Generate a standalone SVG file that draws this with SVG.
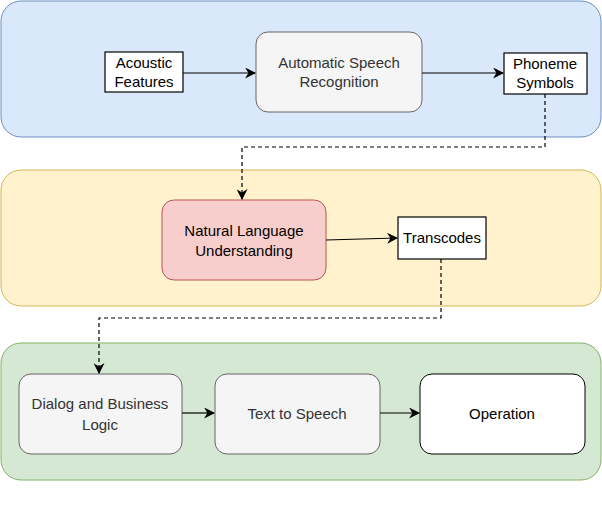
<svg xmlns="http://www.w3.org/2000/svg" width="602" height="514" viewBox="0 0 602 514">
<defs>
<marker id="ah" viewBox="0 0 10 10" refX="9" refY="5" markerWidth="11" markerHeight="11" orient="auto" markerUnits="userSpaceOnUse"><path d="M0,0 L10,5 L0,10 L3,5 Z" fill="#000"/></marker>
<style>
text{font-family:"Liberation Sans",Arial,sans-serif;font-size:15px;fill:#000;text-anchor:middle}
.g{fill:#f5f5f5;stroke:#666;stroke-width:1}
.sq{fill:#fff;stroke:#000;stroke-width:1.2}
.c{fill:none;stroke:#000;stroke-width:1.2}
.d{stroke-dasharray:4 3}
.t{fill:#333}
</style>
</defs>
<rect width="602" height="514" fill="#fff"/>
<g id="panel-asr"><rect x="1" y="1" width="600" height="136" rx="20" fill="#dae8fc" stroke="#6c8ebf"/></g>
<g id="panel-nlu"><rect x="1" y="170" width="600" height="136" rx="20" fill="#fff2cc" stroke="#d6b656"/></g>
<g id="panel-dm"><rect x="1" y="343" width="600" height="137" rx="20" fill="#d5e8d4" stroke="#82b366"/></g>
<g id="acoustic"><rect class="sq" x="105" y="52" width="78" height="40"/><text x="144" y="68">Acoustic</text><text x="144" y="87">Features</text></g>
<g id="asr"><rect class="g" x="256" y="32" width="166" height="80" rx="12"/><text class="t" x="339" y="68">Automatic Speech</text><text class="t" x="339" y="87">Recognition</text></g>
<g id="phoneme"><rect class="sq" x="504" y="53" width="83" height="41"/><text x="545" y="69">Phoneme</text><text x="545" y="88">Symbols</text></g>
<g id="nlu"><rect x="162" y="200" width="164" height="80" rx="12" fill="#f8cecc" stroke="#b85450"/><text x="244" y="236">Natural Language</text><text x="244" y="256">Understanding</text></g>
<g id="transcodes"><rect class="sq" x="398" y="217" width="88" height="42"/><text x="442" y="243">Transcodes</text></g>
<g id="dialog"><rect class="g" x="19" y="374" width="163" height="80" rx="12"/><text class="t" x="100" y="409">Dialog and Business</text><text class="t" x="100" y="430">Logic</text></g>
<g id="tts"><rect class="g" x="215" y="374" width="165" height="80" rx="12"/><text class="t" x="297" y="419">Text to Speech</text></g>
<g id="operation"><rect x="420" y="374" width="165" height="80" rx="12" fill="#fff" stroke="#000"/><text x="502" y="419">Operation</text></g>
<g id="connectors">
<path class="c" d="M183,73 H255" marker-end="url(#ah)"/>
<path class="c" d="M422,73 H503" marker-end="url(#ah)"/>
<path class="c d" d="M545,94 V147 H242 V199" marker-end="url(#ah)"/>
<path class="c" d="M326,240 L397,238" marker-end="url(#ah)"/>
<path class="c d" d="M441,259 V318 H99 V373" marker-end="url(#ah)"/>
<path class="c" d="M182,413 H214" marker-end="url(#ah)"/>
<path class="c" d="M380,413 H419" marker-end="url(#ah)"/>
</g>
</svg>
